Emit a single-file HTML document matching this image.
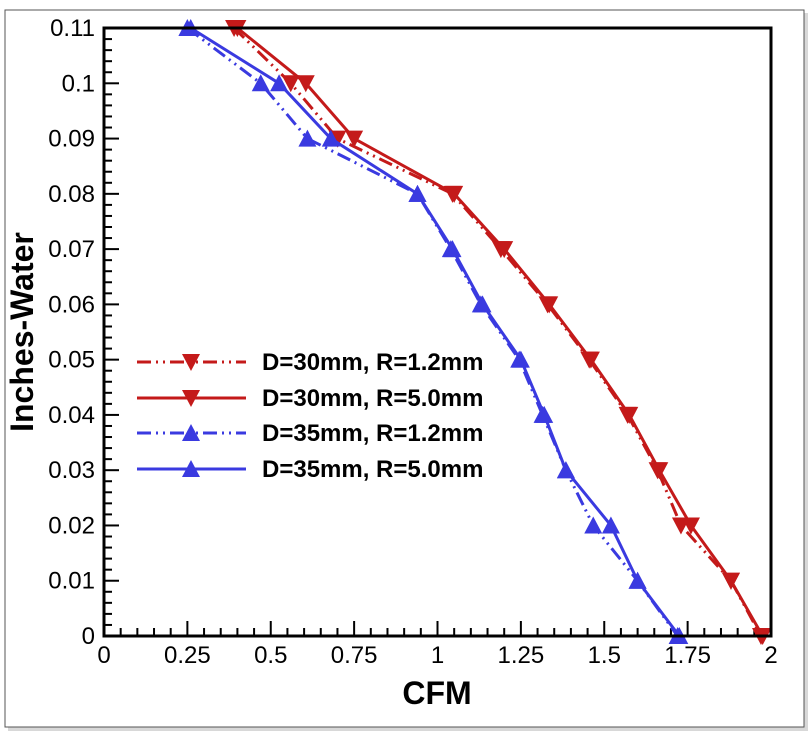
<!DOCTYPE html>
<html><head><meta charset="utf-8"><style>
html,body{margin:0;padding:0;background:#fff;}
svg{display:block;font-family:"Liberation Sans",Arial,sans-serif;}
</style></head><body>
<svg id="chart" width="812" height="737">
<rect x="8" y="13" width="800" height="718" fill="#d8d8d8"/>
<rect x="5" y="10" width="799" height="717" fill="#fff" stroke="#555" stroke-width="1"/>
<g id="ticks"></g>
<g id="series"></g>
<rect x="104" y="28" width="667" height="608" fill="none" stroke="#000" stroke-width="3"/>
<text x="437" y="704" font-size="32" font-weight="bold" text-anchor="middle">CFM</text>
<text transform="translate(33,332) rotate(-90)" font-size="32" font-weight="bold" text-anchor="middle">Inches-Water</text>
<g id="legend"></g>
</svg>
<script>
const xTicks=[0,0.25,0.5,0.75,1,1.25,1.5,1.75,2];
const xTickLabels=["0","0.25","0.5","0.75","1","1.25","1.5","1.75","2"];
const yTicks=[0,0.01,0.02,0.03,0.04,0.05,0.06,0.07,0.08,0.09,0.1,0.11];
const yTickLabels=["0","0.01","0.02","0.03","0.04","0.05","0.06","0.07","0.08","0.09","0.1","0.11"];
const seriesNames=["D=30mm, R=1.2mm","D=30mm, R=5.0mm","D=35mm, R=1.2mm","D=35mm, R=5.0mm"];
const yVals=[0.11,0.1,0.09,0.08,0.07,0.06,0.05,0.04,0.03,0.02,0.01,0];
const red12=[0.39,0.56,0.70,1.045,1.19,1.33,1.455,1.57,1.66,1.73,1.88,1.97];
const red50=[0.40,0.605,0.75,1.05,1.2,1.335,1.46,1.575,1.665,1.76,1.88,1.975];
const blue12=[0.25,0.47,0.61,0.94,1.04,1.13,1.245,1.315,1.385,1.467,1.6,1.72];
const blue50=[0.26,0.525,0.68,0.94,1.045,1.135,1.25,1.32,1.385,1.52,1.6,1.725];
const sx=v=>104+v*333.5, sy=v=>636-v*5527;
const NS="http://www.w3.org/2000/svg";
function mk(tag,attrs,parent){const e=document.createElementNS(NS,tag);for(const k in attrs)e.setAttribute(k,attrs[k]);parent.appendChild(e);return e;}
const tk=document.getElementById('ticks');
for(let i=0;i<=40;i++){const v=i*0.05;const x=sx(v);const major=i%5===0;
 const l=mk('line',{x1:x,x2:x,y1:636,y2:636-(major?15:8),stroke:'#000','stroke-width':2},tk);
 
 }
for(let i=0;i<=55;i++){const v=i*0.002;const y=sy(v);const major=i%5===0;
 const l=mk('line',{x1:104,x2:104+(major?15:8),y1:y,y2:y,stroke:'#000','stroke-width':2},tk);
 
 }
xTicks.forEach((v,i)=>{const t=mk('text',{x:sx(v),y:663,'font-size':24,'text-anchor':'middle'},tk);t.textContent=xTickLabels[i];
 
 });
yTicks.forEach((v,i)=>{const t=mk('text',{x:95,y:sy(v)+8,'font-size':24,'text-anchor':'end'},tk);t.textContent=yTickLabels[i];
 
 });
const styles=[{c:'#c41a1a',d:'14 5 2 5 2 5',down:true},{c:'#c41a1a',d:'',down:true},{c:'#3a3ae0',d:'14 5 2 5 2 5',down:false},{c:'#3a3ae0',d:'',down:false}];
const data=[red12,red50,blue12,blue50];
function marker(x,y,s,g){const p=s.down?`M${x-9},${y-8} L${x+9},${y-8} L${x},${y+9} Z`:`M${x-9},${y+8} L${x+9},${y+8} L${x},${y-9} Z`;return mk('path',{d:p,fill:s.c},g);}
const sg=document.getElementById('series');
data.forEach((xs,si)=>{const s=styles[si];const g=mk('g',{},sg);
 
 
 const pts=xs.map((x,i)=>sx(x)+','+sy(yVals[i])).join(' ');
 const pl=mk('polyline',{points:pts,fill:'none',stroke:s.c,'stroke-width':3,'stroke-dasharray':s.d,'stroke-linejoin':'round'},g);
 
 
 xs.forEach((x,i)=>{const m=marker(sx(x),sy(yVals[i]),s,g);
  
  });});
const lg=document.getElementById('legend');
const ly=[362,398,433,469];
seriesNames.forEach((n,i)=>{const s=styles[i];const g=mk('g',{},lg);
 
 
 mk('line',{x1:137,x2:246,y1:ly[i],y2:ly[i],stroke:s.c,'stroke-width':3,'stroke-dasharray':s.d},g);
 marker(191,ly[i],s,g);
 const t=mk('text',{x:262,y:ly[i]+8,'font-size':24,'font-weight':'bold'},g);t.textContent=n;});
</script>
</body></html>
